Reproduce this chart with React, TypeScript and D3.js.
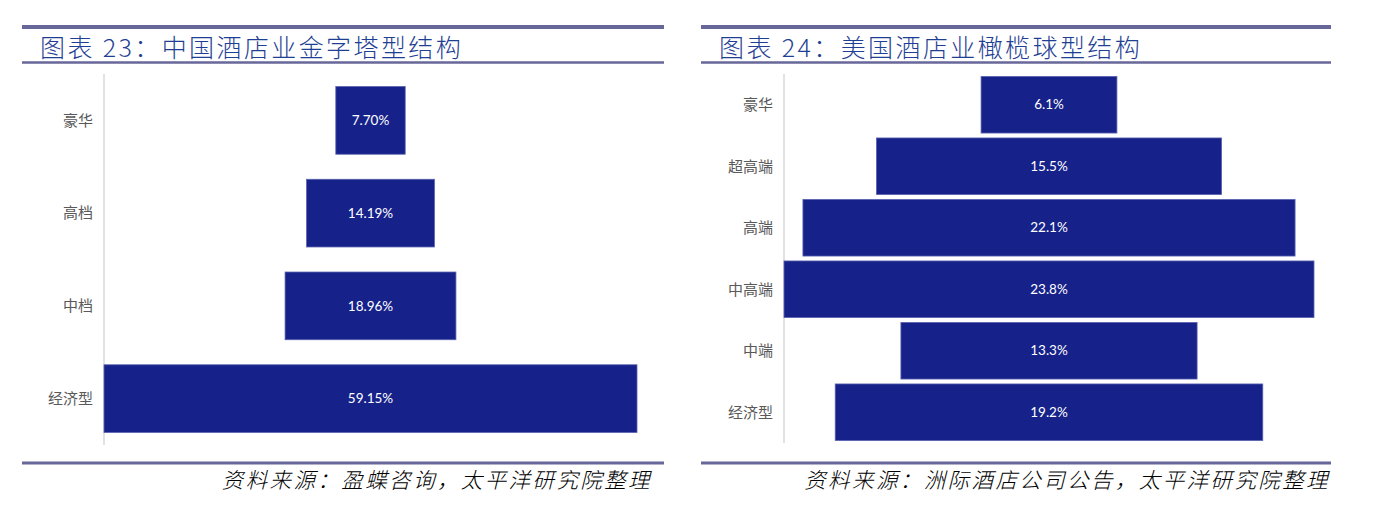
import React from "react";
import * as d3 from "d3";

const cnTitle = "图表 23：中国酒店业金字塔型结构";
const cnSource = "资料来源：盈蝶咨询，太平洋研究院整理";
const cnCategories = ["豪华", "高档", "中档", "经济型"];
const cnValues = [7.7, 14.19, 18.96, 59.15];

const usTitle = "图表 24：美国酒店业橄榄球型结构";
const usSource = "资料来源：洲际酒店公司公告，太平洋研究院整理";
const usCategories = ["豪华", "超高端", "高端", "中高端", "中端", "经济型"];
const usValues = [6.1, 15.5, 22.1, 23.8, 13.3, 19.2];

const BAR = "#16228a";
const RULE = "#67679a";
const TITLE_C = "#1f3f95";

type PanelProps = {
  x0: number;
  x1: number;
  title: string;
  source: string;
  sourceEnd: number;
  cats: string[];
  vals: number[];
  fmt: (v: number) => string;
  plotL: number;
  plotR: number;
  bandTop: number;
  bandBot: number;
  padding: number;
};

function Panel(p: PanelProps) {
  const maxV = d3.max(p.vals) as number;
  const x = d3.scaleLinear().domain([-maxV / 2, maxV / 2]).range([p.plotL, p.plotR]);
  const y = d3
    .scaleBand<string>()
    .domain(p.cats)
    .range([p.bandTop, p.bandBot])
    .paddingInner(p.padding)
    .paddingOuter(p.padding / 2);
  return (
    <g>
      <line x1={p.x0} x2={p.x1} y1={27} y2={27} stroke={RULE} strokeWidth={4} />
      <text x={p.x0 + 18} y={57} fontSize={25} fill={TITLE_C} letterSpacing={2.4} fontFamily="'Noto Sans CJK SC', sans-serif" fontWeight={300}>
        {p.title}
      </text>
      <line x1={p.x0} x2={p.x1} y1={62.5} y2={62.5} stroke={RULE} strokeWidth={2.5} />
      <line x1={p.plotL} x2={p.plotL} y1={p.bandTop} y2={p.bandBot} stroke="#d9d9d9" strokeWidth={1.5} />
      {p.cats.map((c, i) => {
        const v = p.vals[i];
        const yy = y(c) as number;
        const bw = y.bandwidth();
        return (
          <g key={c}>
            <rect x={x(-v / 2)} y={yy} width={x(v / 2) - x(-v / 2)} height={bw} fill={BAR} stroke="#5a62b0" strokeWidth={0.8} />
            <text x={x(0)} y={yy + bw / 2} dy="0.35em" textAnchor="middle" fill="#ffffff" fontSize={13.5} fontFamily="Lato, 'Noto Sans', sans-serif">
              {p.fmt(v)}
            </text>
            <text x={p.plotL - 11} y={yy + bw / 2} dy="0.35em" textAnchor="end" fill="#595959" fontSize={15} fontFamily="'Noto Sans CJK SC', sans-serif">
              {c}
            </text>
          </g>
        );
      })}
      <line x1={p.x0} x2={p.x1} y1={463} y2={463} stroke={RULE} strokeWidth={3} />
      <text x={p.sourceEnd} y={488} textAnchor="end" fontSize={21.5} fontStyle="italic" fill="#000" letterSpacing={2.4} fontFamily="'Noto Sans CJK SC', serif" fontWeight={300}>
        {p.source}
      </text>
    </g>
  );
}

export default function App() {
  return (
    <svg width={1391} height={511} style={{ position: "absolute", left: 0, top: 0, background: "#fff" }}>
      <rect width={1391} height={511} fill="#fff" />
      <Panel
        x0={22}
        x1={664}
        title={cnTitle}
        source={cnSource}
        sourceEnd={652}
        cats={cnCategories}
        vals={cnValues}
        fmt={(v) => d3.format(".2f")(v) + "%"}
        plotL={104}
        plotR={637}
        bandTop={74}
        bandBot={445}
        padding={0.27}
      />
      <Panel
        x0={701}
        x1={1331}
        title={usTitle}
        source={usSource}
        sourceEnd={1330}
        cats={usCategories}
        vals={usValues}
        fmt={(v) => d3.format(".1f")(v) + "%"}
        plotL={784}
        plotR={1314}
        bandTop={74}
        bandBot={443}
        padding={0.08}
      />
    </svg>
  );
}
